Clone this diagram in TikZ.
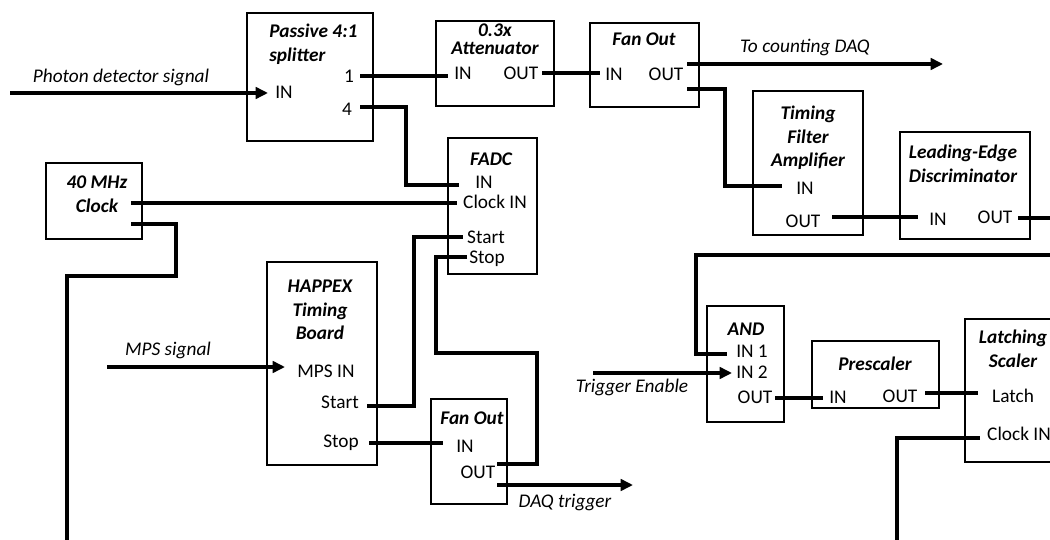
\documentclass[tikz,border=0pt]{standalone}
\usepackage{fontspec}
\setmainfont{Carlito}
\usetikzlibrary{arrows.meta,fit}

\tikzset{
  blk/.style={draw,line width=1.5pt,inner sep=0pt,fit={#1}},
  ttl/.style={font=\fontsize{11}{13.5}\selectfont\bfseries\itshape,align=center,inner sep=0pt},
  prt/.style={font=\fontsize{11}{13}\selectfont,inner sep=0pt,anchor=mid},
  sig/.style={font=\fontsize{11}{13}\selectfont\itshape,inner sep=0pt,anchor=mid},
  wire/.style={line width=2pt},
  feed/.style={wire,-{Triangle[length=7pt,width=6.5pt]}},
}

\begin{document}
\begin{tikzpicture}[x=0.02cm,y=-0.02cm]
\useasboundingbox (0,0) rectangle (1050,540);
\clip (0,0) rectangle (1050,540);

% boxes
\node[blk={(247,13)(373,141)}] (spl) {};
\node[blk={(436,21)(554,106)}] (att) {};
\node[blk={(590,23)(699,107)}] (fo1) {};
\node[blk={(753,91)(863,235)}] (tfa) {};
\node[blk={(900,132)(1030,239)}] (led) {};
\node[blk={(46,163)(142,239)}] (clk) {};
\node[blk={(448,138)(537,274)}] (fadc) {};
\node[blk={(267,262)(377,465)}] (hap) {};
\node[blk={(431,399)(507,504)}] (fo2) {};
\node[blk={(707,306)(784,422)}] (and) {};
\node[blk={(812,341)(939,408)}] (pre) {};
\node[blk={(965,319)(1070,462)}] (lat) {};

% titles
\node[ttl,align=left,anchor=west] (spl-t) at (269,44) {Passive 4:1\\splitter};
\node[ttl] (att-t) at (495,39) {0.3x\\[-3.5pt]Attenuator};
\node[ttl] (fo1-t) at (644,39) {Fan Out};
\node[ttl] (tfa-t) at (808,138) {Timing\\Filter\\Amplifier};
\node[ttl] (led-t) at (963,164) {Leading-Edge\\Discriminator};
\node[ttl] (clk-t) at (97,194) {40 MHz\\Clock};
\node[ttl] (fadc-t) at (491,159) {FADC};
\node[ttl] (hap-t) at (320,310) {HAPPEX\\Timing\\Board};
\node[ttl] (fo2-t) at (472,418) {Fan Out};
\node[ttl] (and-t) at (746,329) {AND};
\node[ttl] (pre-t) at (875,364) {Prescaler};
\node[ttl] (lat-t) at (1013,349) {Latching\\Scaler};

% port labels
\node[prt] (spl-in) at (284,94) {IN};
\node[prt] (spl-1) at (349,78) {1};
\node[prt] (spl-4) at (347,111) {4};
\node[prt] (att-in) at (463,75) {IN};
\node[prt] (att-out) at (521,75) {OUT};
\node[prt] (fo1-in) at (614,76) {IN};
\node[prt] (fo1-out) at (666,76) {OUT};
\node[prt] (tfa-in) at (805,190) {IN};
\node[prt] (tfa-out) at (803,223) {OUT};
\node[prt] (led-in) at (938,221) {IN};
\node[prt] (led-out) at (995,219) {OUT};
\node[prt] (fadc-in) at (484,184) {IN};
\node[prt] (fadc-clk) at (495,204) {Clock IN};
\node[prt] (fadc-start) at (486,239) {Start};
\node[prt] (fadc-stop) at (487,259) {Stop};
\node[prt] (hap-mps) at (326,373) {MPS IN};
\node[prt] (hap-start) at (340,404) {Start};
\node[prt] (hap-stop) at (341,443) {Stop};
\node[prt] (fo2-in) at (465,448) {IN};
\node[prt] (fo2-out) at (478,474) {OUT};
\node[prt] (and-in1) at (752,353) {IN 1};
\node[prt] (and-in2) at (752,374) {IN 2};
\node[prt] (and-out) at (755,399) {OUT};
\node[prt] (pre-in) at (838,399) {IN};
\node[prt] (pre-out) at (900,398) {OUT};
\node[prt] (lat-latch) at (1013,398) {Latch};
\node[prt] (lat-clk) at (1019,436) {Clock IN};

% signal labels
\node[sig] (pd-l) at (121,78) {Photon detector signal};
\node[sig] (cnt-l) at (805,48) {To counting DAQ};
\node[sig] (mps-l) at (168,351) {MPS signal};
\node[sig] (te-l) at (632,388) {Trigger Enable};
\node[sig] (daq-l) at (565,503) {DAQ trigger};

% wire ends
\coordinate (pd-src) at (10,93);    \coordinate (spl-a) at (268,93);
\coordinate (spl-o1) at (360,76);   \coordinate (att-a) at (448,76);
\coordinate (spl-o4) at (360,107);  \coordinate (fadc-a) at (459,185);
\coordinate (att-b) at (542,73);    \coordinate (fo1-a) at (600,73);
\coordinate (fo1-b1) at (687,64);   \coordinate (cnt) at (943,64);
\coordinate (fo1-b2) at (687,89);   \coordinate (tfa-a) at (782,186);
\coordinate (tfa-b) at (832,217);   \coordinate (led-a) at (918,217);
\coordinate (led-b) at (1018,218);  \coordinate (led-end) at (1060,218);
\coordinate (and-src) at (1060,255);\coordinate (and-a1) at (727,354);
\coordinate (te-src) at (593,373);  \coordinate (and-a2) at (732,373);
\coordinate (and-b) at (775,398);   \coordinate (pre-a) at (823,398);
\coordinate (pre-b) at (925,393);   \coordinate (lat-a) at (978,393);
\coordinate (lat-c) at (980,438);   \coordinate (lat-end) at (897,550);
\coordinate (clk-b1) at (131,203);  \coordinate (fadc-c) at (457,203);
\coordinate (clk-b2) at (131,224);  \coordinate (clk-end) at (67,550);
\coordinate (mps-src) at (107,367); \coordinate (hap-a) at (285,367);
\coordinate (hap-b1) at (367,406);  \coordinate (fadc-s) at (463,237);
\coordinate (hap-b2) at (369,443);  \coordinate (fo2-a) at (443,443);
\coordinate (fadc-p) at (467,257);  \coordinate (fo2-b1) at (497,464);
\coordinate (fo2-b2) at (497,485);  \coordinate (daq) at (633,485);

% wires
\draw[feed] (pd-src) -- (spl-a);
\draw[wire] (spl-o1) -- (att-a);
\draw[wire] (spl-o4) -- ++(46,0) |- (fadc-a);
\draw[wire] (att-b) -- (fo1-a);
\draw[feed] (fo1-b1) -- (cnt);
\draw[wire] (fo1-b2) -- ++(38,0) |- (tfa-a);
\draw[wire] (tfa-b) -- (led-a);
\draw[wire] (led-b) -- (led-end);
\draw[wire] (and-src) -- ++(-364,0) |- (and-a1);
\draw[feed] (te-src) -- (and-a2);
\draw[wire] (and-b) -- (pre-a);
\draw[wire] (pre-b) -- (lat-a);
\draw[wire] (lat-c) -| (lat-end);
\draw[wire] (clk-b1) -- (fadc-c);
\draw[wire] (clk-b2) -- ++(45,0) -- ++(0,52) -| (clk-end);
\draw[feed] (mps-src) -- (hap-a);
\draw[wire] (hap-b1) -- ++(47,0) |- (fadc-s);
\draw[wire] (hap-b2) -- (fo2-a);
\draw[wire] (fadc-p) -- ++(-31,0) -- ++(0,96) -- ++(101,0) |- (fo2-b1);
\draw[feed] (fo2-b2) -- (daq);
\end{tikzpicture}
\end{document}
